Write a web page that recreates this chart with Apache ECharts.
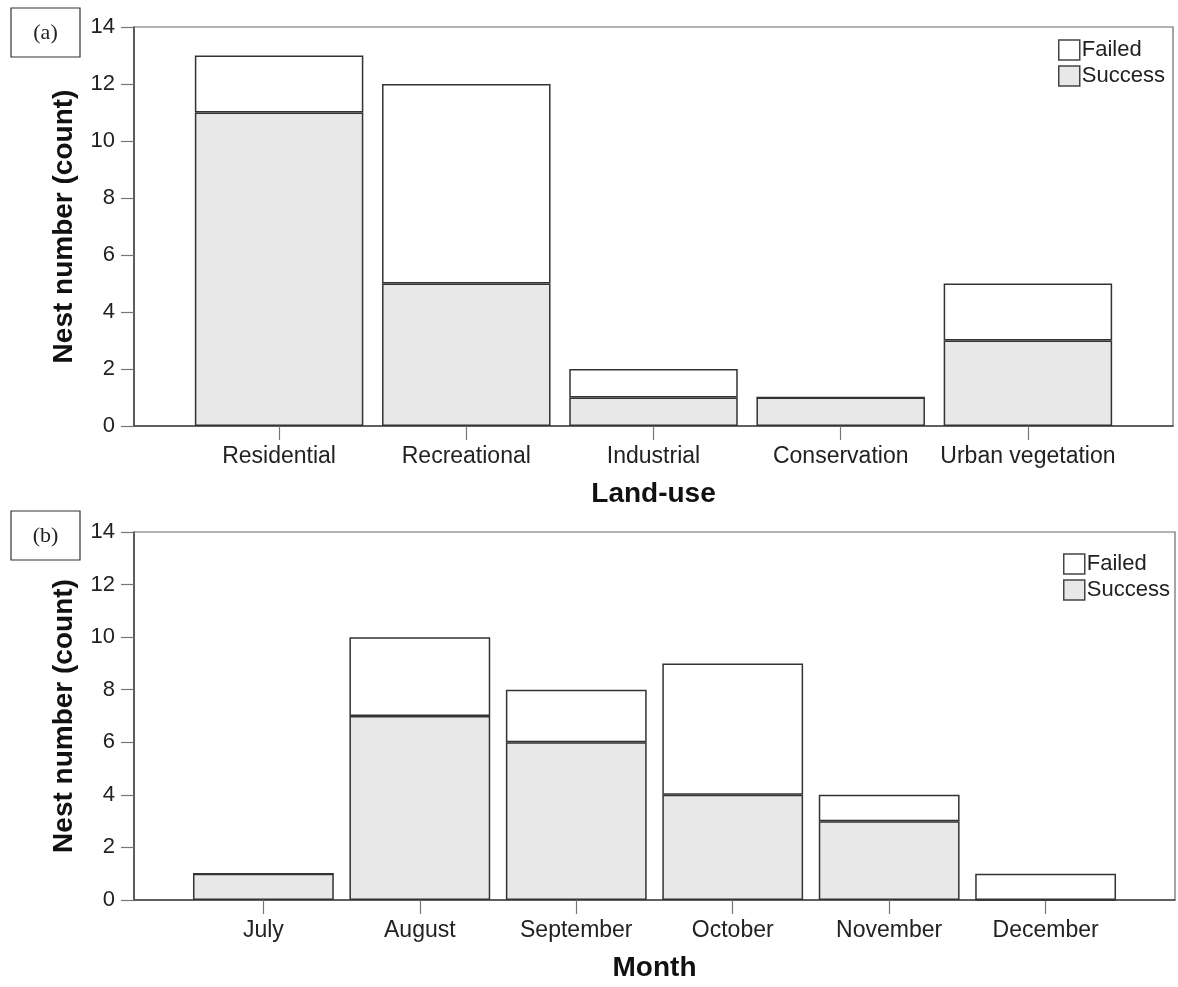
<!DOCTYPE html>
<html>
<head>
<meta charset="utf-8">
<script src="https://cdn.jsdelivr.net/npm/echarts@6/dist/echarts.min.js"></script>
<style>html,body{margin:0;padding:0;background:#fff}#c{width:1178px;height:987px}</style>
</head>
<body>
<div id="c"></div>
<script>
// Data
const landUse = ['Residential', 'Recreational', 'Industrial', 'Conservation', 'Urban vegetation'];
const landSuccess = [11, 5, 1, 1, 3];
const landFailed = [2, 7, 1, 0, 2];

const months = ['July', 'August', 'September', 'October', 'November', 'December'];
const monthSuccess = [1, 7, 6, 4, 3, 0];
const monthFailed = [0, 3, 2, 5, 1, 1];

const yTicks = [0, 2, 4, 6, 8, 10, 12, 14];

const FONT = '"Liberation Sans", Arial, sans-serif';
const TXT = '#222';
const AXIS = '#444';

function idx(arr) { return arr.map((_, i) => i); }
// value first, category index second (so the stack runs on the value dimension)
function pairs(vals) { return vals.map((v, i) => [v, i]); }

function xAxisFor(cats, pad, gridIndex, name) {
  return {
    type: 'value', gridIndex: gridIndex,
    min: -pad, max: cats.length - 1 + pad,
    name: name, nameLocation: 'middle', nameGap: 54,
    nameTextStyle: { fontFamily: FONT, fontSize: 28, fontWeight: 'bold', color: '#111' },
    axisLine: { show: true, onZero: false, lineStyle: { color: AXIS, width: 1.5 } },
    axisTick: { show: true, length: 14, customValues: idx(cats), lineStyle: { color: '#777', width: 1.2 } },
    axisLabel: { customValues: idx(cats), formatter: v => cats[Math.round(v)], fontFamily: FONT, fontSize: 23, color: TXT, margin: 19 },
    splitLine: { show: false }
  };
}
function yAxisFor(gridIndex) {
  return {
    type: 'value', gridIndex: gridIndex, min: 0, max: 14, interval: 2,
    name: 'Nest number (count)', nameLocation: 'middle', nameGap: 56,
    nameTextStyle: { fontFamily: FONT, fontSize: 28, fontWeight: 'bold', color: '#111' },
    axisLine: { show: true, onZero: false, lineStyle: { color: AXIS, width: 1.5 } },
    axisTick: { show: true, length: 13, lineStyle: { color: '#777', width: 1.2 } },
    axisLabel: { fontFamily: FONT, fontSize: 22, color: TXT, margin: 19 },
    splitLine: { show: false }
  };
}
function barSeries(name, vals, gi, fill) {
  return {
    name: name, type: 'bar', xAxisIndex: gi, yAxisIndex: gi, stack: 's' + gi,
    data: pairs(vals), encode: { x: 1, y: 0 }, barWidth: '90%',
    itemStyle: { color: fill, borderColor: '#333', borderWidth: 1.5 },
    emphasis: { disabled: true }
  };
}
function legendFor(left, top) {
  return {
    orient: 'vertical', left: left, top: top, itemGap: 4, itemWidth: 21, itemHeight: 20,
    icon: 'rect', data: ['Failed', 'Success'], selectedMode: false,
    textStyle: { fontFamily: FONT, fontSize: 22, color: TXT, padding: [0, 0, 0, -3] },
    itemStyle: { borderColor: '#444', borderWidth: 1.5 }, padding: 0
  };
}
function tag(text, top) {
  return [
    { type: 'rect', shape: { x: 11, y: top, width: 69, height: 49 }, style: { fill: '#fff', stroke: '#333', lineWidth: 1.2 } },
    { type: 'text', x: 45.5, y: top + 25, style: { text: text, font: '22px "Liberation Serif", "Times New Roman", serif', fill: '#222', align: 'center', verticalAlign: 'middle' } }
  ];
}

const chart = echarts.init(document.getElementById('c'), null, { renderer: 'canvas' });
chart.setOption({
  animation: false,
  backgroundColor: '#fff',
  grid: [
    { left: 134, right: 5, top: 27, height: 399, show: true, borderColor: '#6a6a6a', borderWidth: 1.2, backgroundColor: 'transparent' },
    { left: 134, right: 3, top: 532, height: 368, show: true, borderColor: '#6a6a6a', borderWidth: 1.2, backgroundColor: 'transparent' }
  ],
  xAxis: [ xAxisFor(landUse, 0.775, 0, 'Land-use'), xAxisFor(months, 0.827, 1, 'Month') ],
  yAxis: [ yAxisFor(0), yAxisFor(1) ],
  legend: [ legendFor(1058, 39), legendFor(1063, 553) ],
  series: [
    barSeries('Success', landSuccess, 0, '#e8e8e8'),
    barSeries('Failed', landFailed, 0, '#ffffff'),
    barSeries('Success', monthSuccess, 1, '#e8e8e8'),
    barSeries('Failed', monthFailed, 1, '#ffffff')
  ],
  graphic: [].concat(tag('(a)', 8), tag('(b)', 511))
});
</script>
</body>
</html>
